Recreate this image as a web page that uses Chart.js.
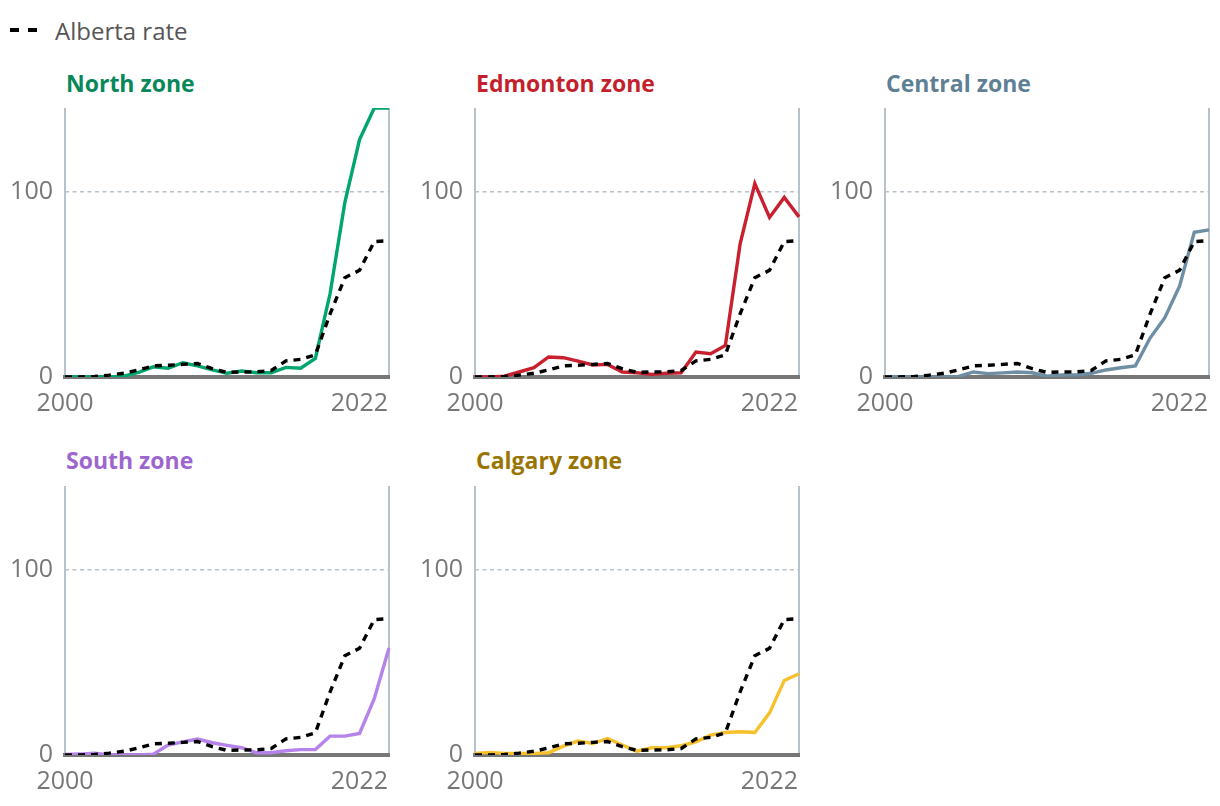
<!DOCTYPE html>
<html>
<head>
<meta charset="utf-8">
<script src="https://cdn.jsdelivr.net/npm/chart.js@4.4.1/dist/chart.umd.min.js"></script>
<style>
  body { margin: 0; background: #fff; font-family: "Open Sans", sans-serif; }
  #wrap { position: relative; width: 1220px; height: 806px; overflow: hidden; }
  .legend { position: absolute; left: 10px; top: 20px; font-size: 24px; line-height: 22px; color: #555; }
  .legend .dash { position: absolute; top: 8px; width: 9px; height: 4px; background: #000; }
  .legend span.txt { position: absolute; left: 45px; top: 0; white-space: nowrap; }
  .title { position: absolute; font-size: 23px; line-height: 22px; font-weight: 700; white-space: nowrap; }
  canvas { position: absolute; }
</style>
</head>
<body>
<div id="wrap">
  <div class="legend">
    <div class="dash" style="left:0"></div>
    <div class="dash" style="left:18px"></div>
    <span class="txt">Alberta rate</span>
  </div>
</div>
<script>
// years on the x axis
const years = ['2000','2001','2002','2003','2004','2005','2006','2007','2008','2009','2010','2011',
  '2012','2013','2014','2015','2016','2017','2018','2019','2020','2021','2022'];
const yTicks = [0, 100];
const yMax = 145;

// province-wide rate, repeated in every panel
const albertaRate = [0, 0, 0.3, 1, 2, 3.8, 6, 6.3, 6.8, 7.3, 4.5, 2.5, 2.7, 2.8, 3.5, 8.7, 9.5, 12, 34, 53.5, 57.5, 73, 73.5];

const northZone = [0, 0, 0, 0, 0.5, 2.5, 5.5, 4.7, 7.7, 6, 3.8, 2, 3.2, 2.3, 2.3, 5.2, 4.7, 10, 45, 94, 128, 145, 145];
const edmontonZone = [0, 0, 0.5, 2.7, 5, 10.8, 10.4, 8.6, 6.5, 6.8, 2.7, 2.3, 1.4, 2, 2.3, 13.5, 12.6, 17, 71.6, 104.3, 86, 96.8, 86.3];
const centralZone = [0, 0, 0, 0, 0, 0.3, 2.7, 1.8, 2.2, 2.7, 2.3, 0.4, 1.1, 1.1, 2, 3.8, 5, 6, 21, 32, 49, 78, 79.3];
const southZone = [0.3, 0.5, 1, 0, 0, 0, 0.5, 5.4, 7.1, 8.6, 6.6, 5.2, 3.9, 1.2, 1.2, 2.3, 2.9, 3, 10.2, 10.2, 11.6, 30.4, 57.7];
const calgaryZone = [0.9, 1.4, 0.9, 0.9, 0.9, 1.2, 4.8, 7.5, 6.2, 8.9, 5.4, 2.1, 3.9, 3.9, 5, 7.1, 10.7, 12.1, 12.5, 12.1, 22.7, 40.2, 43.8];

const panels = [
  { name: 'North zone', data: northZone, line: '#00a66b', text: '#08885a', col: 0, row: 0 },
  { name: 'Edmonton zone', data: edmontonZone, line: '#c8202f', text: '#c41f2c', col: 1, row: 0 },
  { name: 'Central zone', data: centralZone, line: '#6e8ea3', text: '#5f7f94', col: 2, row: 0 },
  { name: 'South zone', data: southZone, line: '#b683ea', text: '#9d66cf', col: 0, row: 1 },
  { name: 'Calgary zone', data: calgaryZone, line: '#f7c12b', text: '#9a7400', col: 1, row: 1 }
];

const FONT = '"Open Sans", sans-serif';
const GREY_TXT = '#777';
const GUIDE = '#b7c2ca';

// first year label centred, last one flush with the right edge
const yearLabels = {
  id: 'yearLabels',
  afterDraw(chart) {
    const x = chart.scales.x;
    const c = chart.ctx;
    const y = chart.chartArea.bottom + 27;
    c.save();
    c.font = '25px ' + FONT;
    c.fillStyle = GREY_TXT;
    c.textBaseline = 'middle';
    c.textAlign = 'center';
    c.fillText(years[0], x.getPixelForValue(0), y);
    c.textAlign = 'right';
    c.fillText(years[years.length - 1], x.getPixelForValue(years.length - 1) - 1, y);
    c.restore();
  }
};

const wrap = document.getElementById('wrap');

panels.forEach(p => {
  const left = p.col * 410;
  const top = p.row === 0 ? 100 : 478;

  const t = document.createElement('div');
  t.className = 'title';
  t.textContent = p.name;
  t.style.color = p.text;
  t.style.left = (left + 66) + 'px';
  t.style.top = (p.row === 0 ? 72 : 449) + 'px';
  wrap.appendChild(t);

  const cv = document.createElement('canvas');
  cv.width = 410;
  cv.height = 330;
  cv.style.left = left + 'px';
  cv.style.top = top + 'px';
  wrap.appendChild(cv);

  new Chart(cv.getContext('2d'), {
    type: 'line',
    data: {
      labels: years,
      datasets: [
        { label: 'Alberta rate', data: albertaRate, borderColor: '#000', borderWidth: 3.4, borderDash: [7, 6], pointRadius: 0, tension: 0 },
        { label: p.name, data: p.data, borderColor: p.line, borderWidth: 3.4, pointRadius: 0, tension: 0 }
      ]
    },
    options: {
      responsive: false,
      animation: false,
      devicePixelRatio: 1,
      layout: { padding: { top: 8, right: 21, left: 0, bottom: 0 } },
      plugins: { legend: { display: false }, tooltip: { enabled: false } },
      scales: {
        x: {
          type: 'category',
          offset: false,
          ticks: { display: false },
          grid: {
            drawTicks: false,
            color: ctx => (ctx.index === 0 || ctx.index === years.length - 1) ? GUIDE : 'rgba(0,0,0,0)',
            lineWidth: 2
          },
          border: { display: true, color: '#777', width: 4 },
          afterFit: s => { s.height = 53; s.paddingLeft = 0; s.paddingRight = 0; }
        },
        y: {
          min: 0,
          max: yMax,
          afterBuildTicks: s => { s.ticks = yTicks.map(v => ({ value: v })); },
          ticks: { padding: 12, color: GREY_TXT, font: { family: FONT, size: 25 } },
          grid: {
            drawTicks: false,
            color: ctx => ctx.tick && ctx.tick.value === 100 ? GUIDE : 'rgba(0,0,0,0)',
            lineWidth: 1.5
          },
          border: { display: false, dash: [4, 3.5] },
          afterFit: s => { s.width = 65; s.paddingTop = 0; s.paddingBottom = 0; }
        }
      }
    },
    plugins: [yearLabels]
  });
});
</script>
</body>
</html>
